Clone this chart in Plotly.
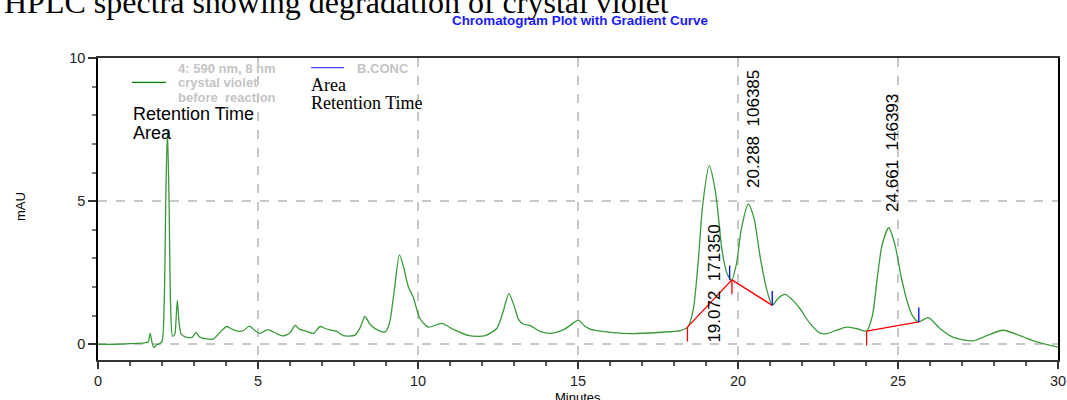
import plotly.graph_objects as go

# ---- data ----
time_min = [0, 0.5, 1.0, 1.45, 1.57, 1.63, 1.69, 1.75, 1.83, 1.92, 2.0, 2.07, 2.12, 2.17, 2.22, 2.27,
            2.33, 2.4, 2.44, 2.48, 2.53, 2.6, 2.75, 2.95, 3.06, 3.18, 3.35, 3.6, 3.8, 4.02, 4.2, 4.4,
            4.55, 4.73, 4.9, 5.06, 5.3, 5.5, 5.79, 6.0, 6.16, 6.3, 6.5, 6.73, 6.94, 7.1, 7.25, 7.46,
            7.67, 8.03, 8.2, 8.34, 8.5, 8.7, 8.97, 9.1, 9.25, 9.42, 9.55, 9.7, 9.85, 10.06, 10.32,
            10.74, 11.1, 11.6, 12.1, 12.46, 12.65, 12.84, 13.0, 13.15, 13.3, 13.5, 13.81, 14.13,
            14.54, 14.9, 15.02, 15.2, 15.4, 15.7, 16.6, 17.6, 18.2, 18.43, 18.6, 18.75, 18.9, 19.1,
            19.3, 19.5, 19.65, 19.8, 19.95, 20.1, 20.32, 20.5, 20.7, 20.9, 21.07, 21.25, 21.47,
            21.7, 21.94, 22.2, 22.56, 22.77, 23.1, 23.4, 23.7, 24.02, 24.2, 24.35, 24.5, 24.71,
            24.9, 25.1, 25.3, 25.45, 25.64, 25.95, 26.3, 26.73, 27.35, 27.77, 28.29, 28.81, 29.33, 30.0]
absorb_mau = [0.0, 0.0, 0.02, 0.05, 0.08, 0.39, 0.05, -0.12, -0.02, 0.02, 0.1, 1.5, 5.2, 7.48, 5.0, 1.3,
              0.28, 0.35, 0.9, 1.53, 0.8, 0.35, 0.25, 0.25, 0.41, 0.25, 0.2, 0.18, 0.4, 0.62, 0.52, 0.45,
              0.48, 0.63, 0.48, 0.38, 0.51, 0.42, 0.29, 0.4, 0.66, 0.52, 0.46, 0.38, 0.62, 0.55, 0.5, 0.45,
              0.3, 0.32, 0.6, 0.97, 0.7, 0.52, 0.43, 0.7, 1.8, 3.12, 2.7, 2.0, 1.65, 0.9, 0.6,
              0.73, 0.52, 0.3, 0.3, 0.55, 1.1, 1.77, 1.35, 0.85, 0.7, 0.66, 0.45, 0.38,
              0.5, 0.78, 0.84, 0.65, 0.52, 0.46, 0.37, 0.42, 0.48, 0.6, 1.2, 2.8, 4.9, 6.24,
              5.3, 3.3, 2.5, 2.23, 2.8, 4.0, 4.9, 4.4, 3.0, 1.9, 1.36, 1.6, 1.74,
              1.55, 1.24, 0.8, 0.39, 0.37, 0.5, 0.6, 0.55, 0.46, 1.0, 2.3, 3.45, 4.07,
              3.5, 2.35, 1.45, 1.0, 0.78, 0.93, 0.56, 0.24, 0.12, 0.3, 0.49, 0.3, 0.08, -0.1]

# integrated peaks
peak_rt = [19.072, 20.288, 24.661]
peak_area = [171350, 106385, 146393]
peak_label_y = [2.13, 7.53, 6.69]

# baseline drop lines (time, value)
baseline_1_t = [18.42, 19.81, 21.07]
baseline_1_v = [0.60, 2.25, 1.36]
baseline_2_t = [24.02, 25.65]
baseline_2_v = [0.46, 0.78]
peak_start_t = [18.42, 19.81, 24.02]
peak_start_v = [0.60, 2.25, 0.46]
peak_end_t = [19.74, 21.07, 25.65]
peak_end_v = [2.25, 1.36, 0.78]

x_ticks = [0, 5, 10, 15, 20, 25, 30]
y_ticks = [0, 5, 10]

SANS = "Liberation Sans, Arial, sans-serif"
SERIF = "Liberation Serif, Times New Roman, serif"

fig = go.Figure()

fig.add_trace(go.Scatter(x=time_min, y=absorb_mau, mode="lines",
                         line=dict(color="#3a9a3a", width=1.3, shape="spline", smoothing=0.7),
                         hoverinfo="skip", showlegend=False))

for bt, bv in ((baseline_1_t, baseline_1_v), (baseline_2_t, baseline_2_v)):
    fig.add_trace(go.Scatter(x=bt, y=bv, mode="lines", line=dict(color="#ff0000", width=1.3),
                             hoverinfo="skip", showlegend=False))

for t, v in zip(peak_start_t, peak_start_v):
    fig.add_shape(type="line", x0=t, x1=t, y0=v, y1=v - 0.5, line=dict(color="#ff0000", width=1.3))
for t, v in zip(peak_end_t, peak_end_v):
    fig.add_shape(type="line", x0=t, x1=t, y0=v, y1=v + 0.5, line=dict(color="#0000ff", width=1.3))

for rt, area, ly in zip(peak_rt, peak_area, peak_label_y):
    fig.add_annotation(x=rt, y=ly, xref="x", yref="y", text=f"{rt:.3f}&nbsp;&nbsp;{area}",
                       textangle=-90, showarrow=False, xshift=6,
                       font=dict(family=SANS, size=17, color="#000"))


def px_x(px):
    return (px - 98) / 960


def px_y(py):
    return (360 - py) / 302


# titles
fig.add_annotation(x=px_x(2), y=px_y(1.5), xref="paper", yref="paper",
                   text="HPLC spectra showing degradation of crystal violet",
                   showarrow=False, xanchor="left", yanchor="middle",
                   font=dict(family=SERIF, size=32, color="#000"))
fig.add_annotation(text="<b>Chromatogram Plot with Gradient Curve</b>", xref="paper", yref="paper",
                   x=px_x(580), y=px_y(20), xanchor="center", yanchor="middle",
                   showarrow=False, font=dict(family=SANS, size=13.4, color="#1a1aff"))

# legend-like block
fig.add_shape(type="line", xref="paper", yref="paper", x0=px_x(132), x1=px_x(166), y0=px_y(82.3), y1=px_y(82.3),
              line=dict(color="#008000", width=1.2))
fig.add_shape(type="line", xref="paper", yref="paper", x0=px_x(311), x1=px_x(344), y0=px_y(67.7), y1=px_y(67.7),
              line=dict(color="#4444ff", width=1.2))
for txt, yy in (("4: 590 nm, 8 nm", 68.3), ("crystal violet", 82.7), ("before&nbsp;&nbsp;reaction", 97.3)):
    fig.add_annotation(text=f"<b>{txt}</b>", xref="paper", yref="paper", x=px_x(176), y=px_y(yy),
                       xanchor="left", yanchor="middle", showarrow=False,
                       font=dict(family=SANS, size=13, color="#c4c4c4"))
fig.add_annotation(text="<b>B.CONC</b>", xref="paper", yref="paper", x=px_x(355), y=px_y(68.3),
                   xanchor="left", yanchor="middle", showarrow=False,
                   font=dict(family=SANS, size=13, color="#c4c4c4"))
for txt, yy in (("Area", 85), ("Retention Time", 103.3)):
    fig.add_annotation(text=txt, xref="paper", yref="paper", x=px_x(309), y=px_y(yy),
                       xanchor="left", yanchor="middle", showarrow=False,
                       font=dict(family=SERIF, size=18, color="#000"))
for txt, yy in (("Retention Time", 114), ("Area", 133.3)):
    fig.add_annotation(text=txt, xref="paper", yref="paper", x=px_x(131), y=px_y(yy),
                       xanchor="left", yanchor="middle", showarrow=False,
                       font=dict(family=SANS, size=18, color="#000"))

# axis titles
fig.add_annotation(text="Minutes", xref="paper", yref="paper", x=px_x(578), y=px_y(397),
                   xanchor="center", yanchor="middle", showarrow=False,
                   font=dict(family=SANS, size=13, color="#000"))
fig.add_annotation(text="mAU", xref="paper", yref="paper", x=px_x(20), y=px_y(207), textangle=-90,
                   xanchor="center", yanchor="middle", showarrow=False,
                   font=dict(family=SANS, size=13, color="#000"))

fig.update_layout(
    width=1067, height=400,
    margin=dict(l=98, r=9, t=58, b=40, autoexpand=False),
    paper_bgcolor="white", plot_bgcolor="white",
    showlegend=False,
    xaxis=dict(range=[0, 30], tickvals=x_ticks, ticktext=[str(v) for v in x_ticks],
               showgrid=True, gridcolor="#c8c8c8", griddash="dash", gridwidth=1.5,
               zeroline=False, showline=True, linecolor="#333", linewidth=2, mirror=True,
               ticks="outside", ticklen=7, tickcolor="#333", tickwidth=1.5,
               minor=dict(dtick=1, ticks="outside", ticklen=4, tickcolor="#555", showgrid=False),
               tickfont=dict(family=SANS, size=14.5, color="#222"), automargin=False),
    yaxis=dict(range=[-0.55, 10], tickvals=y_ticks, ticktext=[str(v) for v in y_ticks],
               showgrid=True, gridcolor="#c8c8c8", griddash="dash", gridwidth=1.5,
               zeroline=False, showline=True, linecolor="#000", linewidth=1.5, mirror=True,
               ticks="outside", ticklen=8, tickcolor="#333", tickwidth=1.5,
               minor=dict(dtick=1, ticks="outside", ticklen=4, tickcolor="#777", showgrid=False),
               tickfont=dict(family=SANS, size=14.5, color="#222"), automargin=False),
)

fig.write_html("out.html")
